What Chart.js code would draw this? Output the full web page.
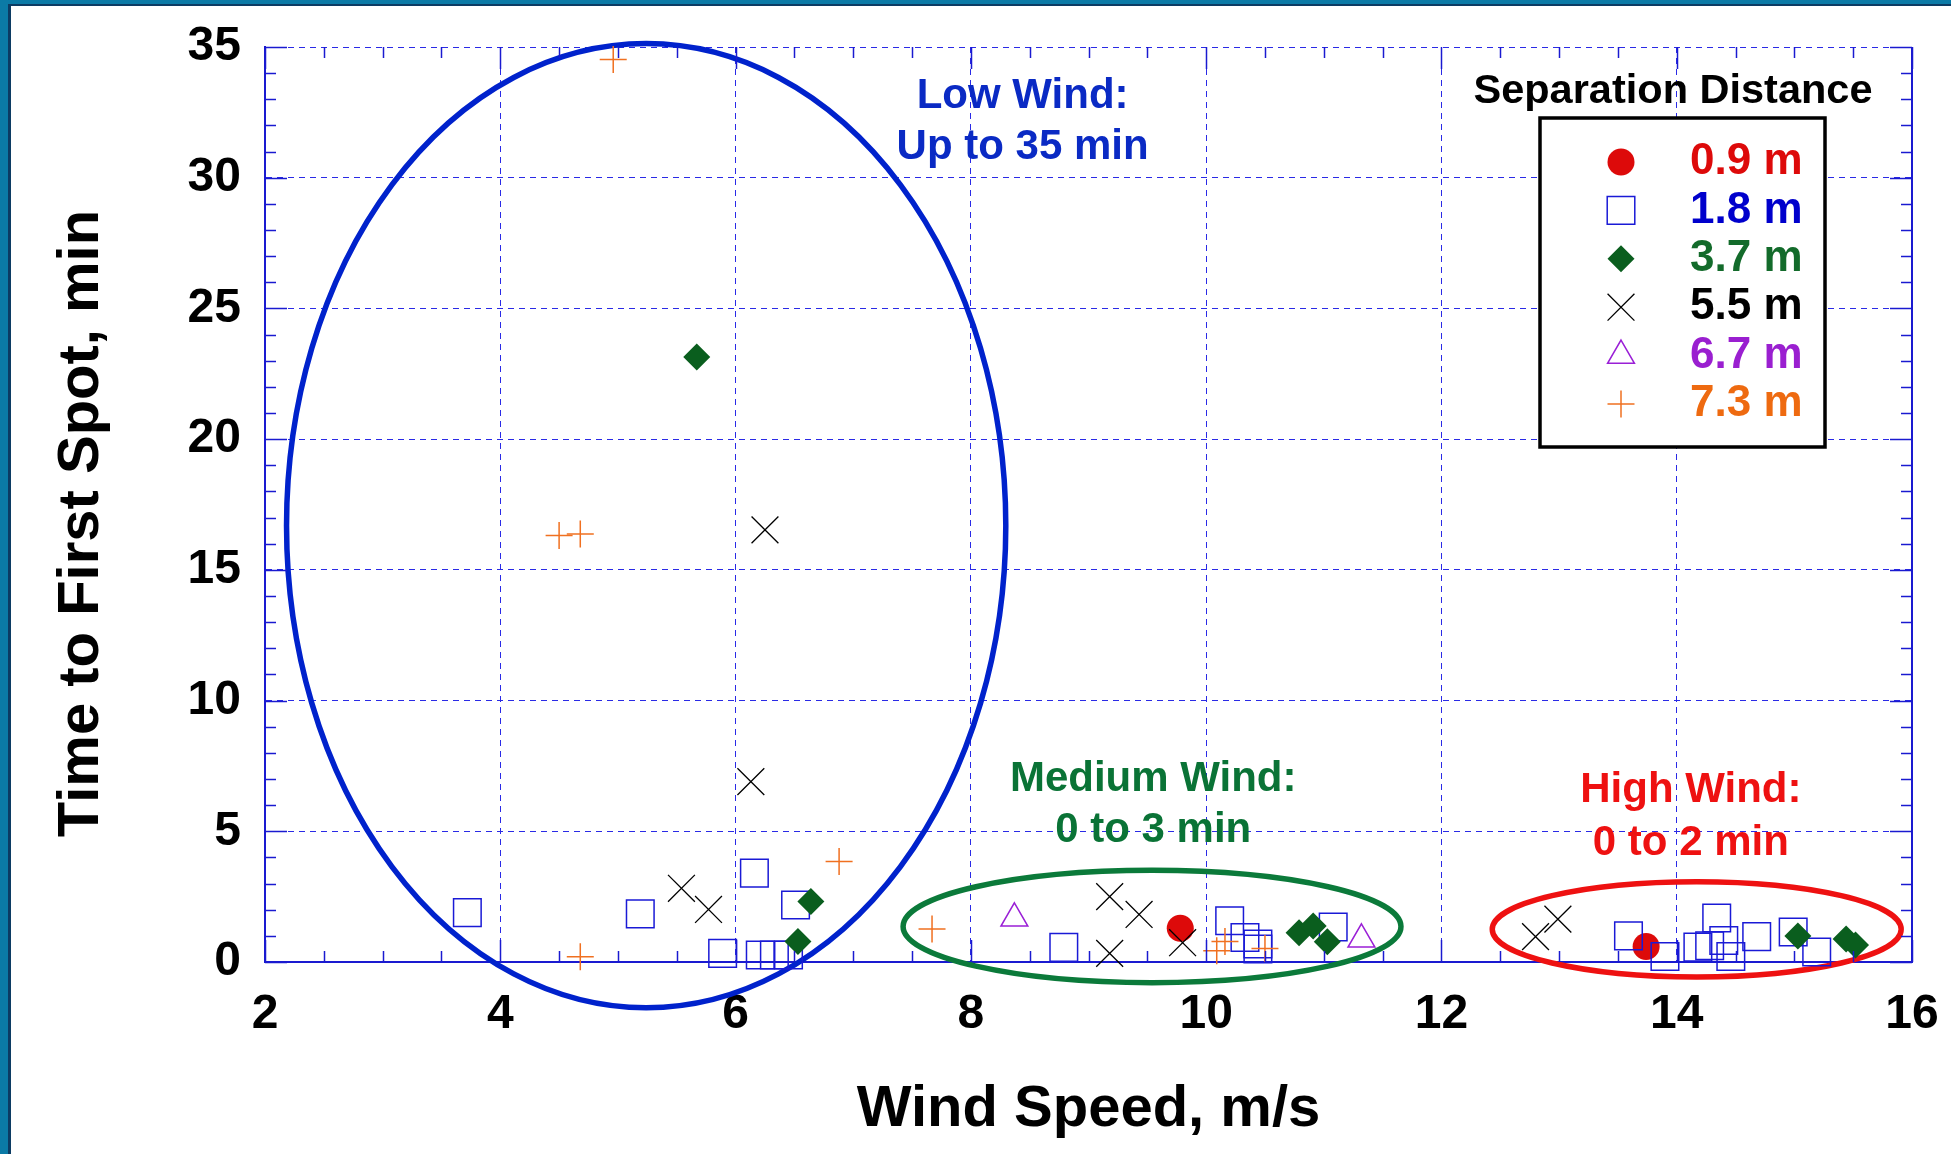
<!DOCTYPE html>
<html>
<head>
<meta charset="utf-8">
<title>Time to First Spot vs Wind Speed</title>
<script src="https://cdn.jsdelivr.net/npm/chart.js@4.4.1/dist/chart.umd.min.js"></script>
<style>
  html, body { margin: 0; padding: 0; background: #fff; }
  #frame { position: absolute; left: 0; top: 0; width: 1951px; height: 1154px; background: #0b7aa6; }
  #paper { position: absolute; left: 8px; top: 4px; right: 0; bottom: 0; background: #fff;
           border-left: 3px solid #0c3b63; border-top: 2px solid #0c3b63; }
  #spotChart { position: absolute; left: 0; top: 0; }
</style>
</head>
<body>
<div id="frame"><div id="paper"></div></div>
<canvas id="spotChart" width="1951" height="1154"></canvas>
<script>
const FONT = "'Liberation Sans', Arial, Helvetica, sans-serif";

// separation distance groups
const separations = ['0.9 m', '1.8 m', '3.7 m', '5.5 m', '6.7 m', '7.3 m'];

// 0.9 m
const speed09 = [9.78, 13.74];
const time09  = [1.29, 0.59];

// 1.8 m
const speed18 = [3.72, 5.19, 6.16, 5.89, 6.51, 6.21, 6.33, 6.45,
                 8.79, 10.20, 10.33, 10.44, 10.44, 11.08,
                 13.59, 13.90, 14.18, 14.28, 14.34, 14.40, 14.46, 14.68, 14.99, 15.19];
const time18  = [1.89, 1.84, 3.40, 0.33, 2.18, 0.27, 0.27, 0.27,
                 0.56, 1.58, 0.94, 0.69, 0.50, 1.34,
                 1.00, 0.21, 0.57, 0.62, 1.68, 0.82, 0.21, 0.97, 1.15, 0.38];

// 3.7 m
const speed37 = [5.67, 6.64, 6.53, 10.79, 10.91, 11.03, 15.03, 15.44, 15.52];
const time37  = [23.14, 2.31, 0.78, 1.12, 1.38, 0.77, 0.99, 0.88, 0.65];

// 5.5 m
const speed55 = [6.25, 6.13, 5.54, 5.77, 9.18, 9.43, 9.18, 9.80, 12.80, 12.99];
const time55  = [16.53, 6.90, 2.82, 2.01, 2.50, 1.82, 0.33, 0.74, 0.97, 1.64];

// 6.7 m
const speed67 = [8.37, 11.32];
const time67  = [1.67, 0.87];

// 7.3 m
const speed73 = [4.96, 4.50, 4.68, 4.68, 6.88, 7.67, 10.09, 10.16, 10.50];
const time73  = [34.52, 16.31, 16.37, 0.20, 3.84, 1.26, 0.43, 0.78, 0.52];

// colours
const axisBlue = '#1a1ad0';
const gridBlue = '#2a2ae6';
const red = '#dd0a0a';
const blue = '#1a1ad6';
const green = '#0a5e1e';
const purple = '#9a1fd6';
const orange = '#f07020';

// wind zones (ellipse in data units) and their notes
const zones = [
  { cx: 5.24, cy: 16.69, rx: 3.057, ry: 18.44, color: '#0022cc',
    text: ['Low Wind:', 'Up to 35 min'], tx: 8.44, ty: [33.1, 31.15], textColor: '#0a2ac4' },
  { cx: 9.54, cy: 1.36, rx: 2.116, ry: 2.15, color: '#0b7a3a',
    text: ['Medium Wind:', '0 to 3 min'], tx: 9.55, ty: [7.0, 5.05], textColor: '#0a7336' },
  { cx: 14.17, cy: 1.25, rx: 1.738, ry: 1.82, color: '#ee1111',
    text: ['High Wind:', '0 to 2 min'], tx: 14.12, ty: [6.55, 4.55], textColor: '#ee1111' }
];

function toPoints(xs, ys) {
  return xs.map((v, i) => ({ x: v, y: ys[i] }));
}

const datasets = [
  { label: separations[0], data: toPoints(speed09, time09), pointStyle: 'circle', pointRadius: 13.5,
    backgroundColor: red, borderColor: red, borderWidth: 0, order: 6, textColor: '#dd0a0a' },
  { label: separations[1], data: toPoints(speed18, time18), pointStyle: 'rect', pointRadius: 19.5,
    backgroundColor: 'rgba(0,0,0,0)', borderColor: blue, borderWidth: 1.5, order: 5, textColor: '#0000cc' },
  { label: separations[2], data: toPoints(speed37, time37), pointStyle: 'rectRot', pointRadius: 13.5,
    backgroundColor: green, borderColor: green, borderWidth: 0, order: 4, textColor: '#136b2b' },
  { label: separations[3], data: toPoints(speed55, time55), pointStyle: 'crossRot', pointRadius: 19,
    backgroundColor: '#000', borderColor: '#000', borderWidth: 1.3, order: 3, textColor: '#000000' },
  { label: separations[4], data: toPoints(speed67, time67), pointStyle: 'triangle', pointRadius: 15.5,
    backgroundColor: 'rgba(0,0,0,0)', borderColor: purple, borderWidth: 1.5, order: 2, textColor: '#9a1fd0' },
  { label: separations[5], data: toPoints(speed73, time73), pointStyle: 'cross', pointRadius: 13.5,
    backgroundColor: orange, borderColor: orange, borderWidth: 1.5, order: 1, textColor: '#ee6a10' }
];
datasets.forEach(d => { d.pointHoverRadius = d.pointRadius; d.clip = false; });

function line(ctx, x1, y1, x2, y2) {
  ctx.beginPath();
  ctx.moveTo(x1, y1);
  ctx.lineTo(x2, y2);
  ctx.stroke();
}

// ellipses, inside ticks, notes, legend box and y title
const decor = {
  id: 'decor',
  beforeDatasetsDraw(chart) {
    const { ctx, scales: { x, y } } = chart;
    ctx.save();
    zones.forEach(z => {
      const cx = x.getPixelForValue(z.cx);
      const cy = y.getPixelForValue(z.cy);
      const rx = x.getPixelForValue(z.cx + z.rx) - cx;
      const ry = cy - y.getPixelForValue(z.cy + z.ry);
      ctx.beginPath();
      ctx.ellipse(cx, cy, rx, ry, 0, 0, Math.PI * 2);
      ctx.lineWidth = 5.5;
      ctx.strokeStyle = z.color;
      ctx.stroke();
    });
    ctx.restore();
  },
  afterDatasetsDraw(chart) {
    const { ctx, chartArea: a, scales: { x, y } } = chart;
    ctx.save();

    // inside tick marks on all four sides
    ctx.strokeStyle = axisBlue;
    ctx.lineWidth = 1.5;
    for (let v = 2; v <= 16.001; v += 0.5) {
      const px = Math.round(x.getPixelForValue(v)) + 0.5;
      const len = (Math.abs(v % 2) < 0.001) ? 22 : 11;
      line(ctx, px, a.bottom, px, a.bottom - len);
      line(ctx, px, a.top, px, a.top + len);
    }
    for (let v = 0; v <= 35; v += 1) {
      const py = Math.round(y.getPixelForValue(v)) + 0.5;
      const len = (v % 5 === 0) ? 22 : 11;
      line(ctx, a.left, py, a.left + len, py);
      line(ctx, a.right, py, a.right - len, py);
    }
    ctx.lineWidth = 2;
    line(ctx, a.right, a.top, a.right, a.bottom);

    // zone notes
    ctx.font = 'bold 42px ' + FONT;
    ctx.textAlign = 'center';
    ctx.textBaseline = 'middle';
    zones.forEach(z => {
      ctx.fillStyle = z.textColor;
      z.text.forEach((t, i) => {
        ctx.fillText(t, x.getPixelForValue(z.tx), y.getPixelForValue(z.ty[i]));
      });
    });

    // legend
    const lg = { left: a.right - 372, top: a.top + 71, right: a.right - 87, bottom: a.top + 400 };
    ctx.fillStyle = '#fff';
    ctx.fillRect(lg.left, lg.top, lg.right - lg.left, lg.bottom - lg.top);
    ctx.strokeStyle = '#000';
    ctx.lineWidth = 3.5;
    ctx.strokeRect(lg.left, lg.top, lg.right - lg.left, lg.bottom - lg.top);

    ctx.fillStyle = '#000';
    ctx.font = 'bold 41.5px ' + FONT;
    ctx.fillText('Separation Distance', a.right - 239, a.top + 45);

    ctx.textAlign = 'left';
    ctx.font = 'bold 44px ' + FONT;
    chart.data.datasets.forEach((d, i) => {
      const ry = lg.top + 44 + i * 48.4;
      const mx = lg.left + 81;
      ctx.fillStyle = d.backgroundColor;
      ctx.strokeStyle = d.borderColor;
      ctx.lineWidth = d.borderWidth;
      Chart.helpers.drawPoint(ctx, { pointStyle: d.pointStyle, radius: d.pointRadius, rotation: 0, borderWidth: d.borderWidth }, mx, ry);
      ctx.fillStyle = d.textColor;
      ctx.fillText(d.label, lg.left + 150, ry);
    });

    // y axis title
    ctx.fillStyle = '#000';
    ctx.font = 'bold 58px ' + FONT;
    ctx.textAlign = 'center';
    ctx.textBaseline = 'alphabetic';
    ctx.translate(98, (a.top + a.bottom) / 2 + 19);
    ctx.rotate(-Math.PI / 2);
    ctx.fillText('Time to First Spot, min', 0, 0);
    ctx.restore();
  }
};

const tickFont = { family: FONT, size: 48, weight: 'bold' };

new Chart(document.getElementById('spotChart'), {
  type: 'scatter',
  data: { datasets: datasets },
  options: {
    responsive: false,
    animation: false,
    devicePixelRatio: 1,
    events: [],
    layout: { padding: { left: 0, right: 39, top: 47, bottom: 0 } },
    plugins: { legend: { display: false }, tooltip: { enabled: false } },
    scales: {
      x: {
        type: 'linear', min: 2, max: 16,
        ticks: { stepSize: 2, color: '#000', font: tickFont, padding: 24 },
        grid: { color: gridBlue, lineWidth: 1, drawTicks: false },
        border: { display: true, color: axisBlue, width: 2, dash: [6, 5] },
        title: { display: true, text: 'Wind Speed, m/s', color: '#000',
                 font: { family: FONT, size: 58, weight: 'bold' }, padding: { top: 0, bottom: 9 } },
        afterFit: (scale) => {
          scale.height = 192;
          scale.paddingLeft = 0;
          scale.paddingRight = 0;
        }
      },
      y: {
        type: 'linear', min: 0, max: 35,
        ticks: { stepSize: 5, color: '#000', font: tickFont, padding: 24 },
        grid: { color: gridBlue, lineWidth: 1, drawTicks: false },
        border: { display: true, color: axisBlue, width: 2, dash: [6, 5] },
        afterFit: (scale) => {
          scale.width = 265;
          scale.paddingTop = 0;
          scale.paddingBottom = 0;
        }
      }
    }
  },
  plugins: [decor]
});
</script>
</body>
</html>
